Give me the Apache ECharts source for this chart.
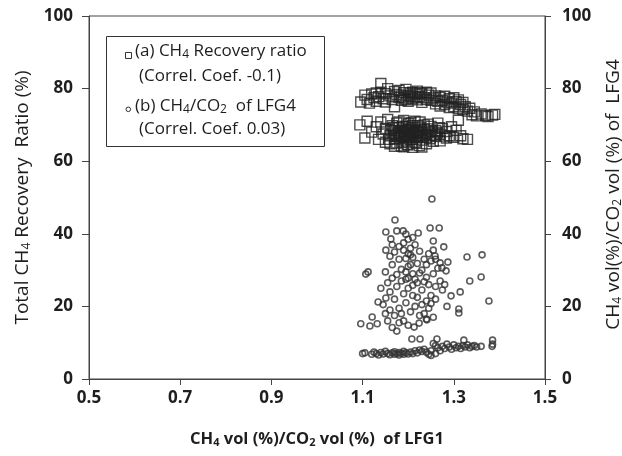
<!DOCTYPE html>
<html><head><meta charset="utf-8">
<script src="https://cdn.jsdelivr.net/npm/echarts@6/dist/echarts.min.js"></script>
<style>html,body{margin:0;padding:0;background:#fff}#c{width:622px;height:456px}</style>
</head><body><div id="c"></div>
<script>
// x-axis ticks
var xTicks = [0.5, 0.7, 0.9, 1.1, 1.3, 1.5];
var yTicks = [0, 20, 40, 60, 80, 100];

// (a) CH4 recovery ratio [CH4/CO2 of LFG1, ratio %]
var recoveryUpper = [
[1.096,76.3],[1.105,78.2],[1.11,77.0],[1.115,76.0],[1.12,78.5],[1.125,77.5],[1.13,76.5],[1.13,78.8],[1.135,77.8],[1.14,81.4],
[1.14,79.0],[1.145,77.2],[1.15,78.6],[1.15,76.3],[1.155,80.0],[1.16,78.0],[1.165,77.0],[1.17,79.2],[1.17,75.0],[1.175,78.4],
[1.18,77.6],[1.18,79.5],[1.185,76.8],[1.19,78.9],[1.19,77.4],[1.195,79.8],[1.2,78.2],[1.2,76.5],[1.205,77.9],[1.21,79.0],
[1.21,77.2],[1.215,78.5],[1.22,76.9],[1.22,79.3],[1.225,77.8],[1.23,78.6],[1.23,76.2],[1.235,77.5],[1.24,79.0],[1.24,77.0],
[1.245,78.2],[1.25,76.8],[1.25,78.8],[1.255,77.4],[1.26,75.8],[1.26,78.0],[1.265,76.5],[1.27,77.6],[1.27,75.2],[1.275,76.8],
[1.28,77.9],[1.28,75.6],[1.285,76.3],[1.29,77.2],[1.29,74.8],[1.295,76.0],[1.3,77.5],[1.3,75.0],[1.305,76.4],[1.31,74.5],
[1.31,76.9],[1.315,75.6],[1.32,74.2],[1.32,76.2],[1.325,75.0],[1.33,73.8],[1.335,74.6],[1.34,72.8],[1.345,73.6],[1.35,72.5],
[1.36,73.0],[1.37,72.6],[1.375,72.3],[1.385,72.7],[1.39,72.9],[1.185,78.0],[1.195,77.0],[1.205,78.8],[1.215,77.6],[1.225,78.9]
];
var recoveryLower = [
[1.094,70.0],[1.105,66.4],[1.11,71.0],[1.12,68.0],[1.13,69.5],[1.135,66.0],[1.14,70.8],[1.145,67.5],[1.15,65.2],[1.15,69.0],
[1.155,71.5],[1.16,67.0],[1.16,64.8],[1.165,69.8],[1.17,66.2],[1.17,68.5],[1.175,70.5],[1.175,65.0],[1.18,67.6],[1.18,69.2],
[1.185,64.2],[1.185,66.8],[1.19,71.2],[1.19,68.0],[1.195,65.6],[1.195,69.6],[1.2,67.2],[1.2,70.3],[1.2,64.5],[1.205,68.6],
[1.205,66.0],[1.21,69.8],[1.21,67.5],[1.215,65.2],[1.215,71.0],[1.22,68.2],[1.22,66.6],[1.225,64.3],[1.225,69.4],[1.23,67.8],
[1.23,65.8],[1.235,70.0],[1.235,68.8],[1.24,66.5],[1.24,64.8],[1.245,68.0],[1.25,69.6],[1.25,67.0],[1.255,65.5],[1.26,68.4],
[1.26,66.8],[1.265,70.5],[1.27,67.4],[1.27,65.6],[1.275,69.0],[1.28,66.9],[1.285,68.2],[1.29,67.0],[1.295,69.5],[1.3,66.6],
[1.305,68.5],[1.31,71.3],[1.315,67.0],[1.32,66.2],[1.33,66.0],[1.175,67.0],[1.185,68.3],[1.19,66.5],[1.195,67.9],[1.2,68.8],
[1.205,67.0],[1.21,66.0],[1.215,68.4],[1.22,69.8],[1.225,67.2],[1.18,70.8],[1.19,64.0],[1.21,63.8],[1.23,63.9],[1.17,64.1],
[1.178,68.0],[1.182,66.2],[1.188,69.6],[1.192,67.3],[1.198,68.4],[1.202,66.6],[1.208,69.2],[1.212,67.9],[1.218,66.9],[1.222,67.8],
[1.228,68.6],[1.232,66.9],[1.238,67.4],[1.242,68.9],[1.248,66.2],[1.252,68.3],[1.258,67.2],[1.188,65.2],[1.198,64.6],[1.218,64.9],
[1.168,69.3],[1.172,67.4],[1.162,68.4],[1.158,66.0],[1.206,70.6],[1.226,70.8],[1.244,70.2],[1.264,67.8],[1.268,69.2],[1.284,66.4]
];

// (b) CH4/CO2 of LFG4 [CH4/CO2 of LFG1, CH4/CO2 of LFG4 %]
var lfg4Low = [
[1.10,7.0],[1.105,7.2],[1.12,6.8],[1.125,7.4],[1.13,7.0],[1.135,6.6],[1.14,7.3],[1.145,6.9],[1.15,7.6],[1.155,7.0],
[1.16,6.7],[1.165,7.2],[1.17,7.5],[1.17,6.8],[1.175,7.0],[1.18,7.3],[1.18,6.6],[1.185,7.1],[1.19,6.8],[1.19,7.6],
[1.195,7.2],[1.2,6.9],[1.205,7.4],[1.21,7.0],[1.215,7.8],[1.22,7.2],[1.225,8.0],[1.23,7.6],[1.235,8.2],[1.24,7.4],
[1.245,6.8],[1.25,7.8],[1.255,9.8],[1.26,9.2],[1.265,8.6],[1.27,7.8],[1.275,9.0],[1.28,8.4],[1.285,9.6],[1.29,8.8],
[1.295,8.2],[1.3,9.4],[1.305,8.6],[1.31,9.0],[1.315,8.4],[1.32,9.2],[1.325,8.8],[1.33,9.4],[1.335,8.6],[1.34,9.0],
[1.345,9.2],[1.35,8.8],[1.36,9.0],[1.385,10.7],[1.385,9.6],[1.384,9.0],[1.208,11.0],[1.226,11.0],[1.263,11.0],[1.322,10.7],
[1.25,6.5],[1.26,7.0]
];
var lfg4High = [
[1.252,49.6],[1.171,43.8],[1.151,40.5],[1.175,40.8],[1.189,40.8],[1.195,39.9],[1.162,38.6],[1.222,40.2],[1.248,41.6],[1.268,41.6],
[1.255,38.0],[1.278,36.4],[1.151,35.5],[1.329,33.6],[1.362,34.2],[1.287,32.2],[1.259,33.9],[1.107,28.9],[1.112,29.5],[1.274,30.6],
[1.283,29.8],[1.360,28.1],[1.335,27.0],[1.314,24.0],[1.294,22.9],[1.377,21.5],[1.134,21.2],[1.151,22.3],[1.121,17.1],[1.096,15.2],
[1.116,14.6],[1.132,15.2],[1.175,13.2],[1.213,14.3],[1.311,19.3],[1.311,18.2],[1.224,15.4],[1.241,16.3],
[1.16,33.8],[1.165,31.5],[1.17,35.0],[1.175,28.8],[1.18,33.0],[1.185,30.2],[1.19,35.5],[1.195,27.5],[1.2,34.5],[1.2,31.0],
[1.205,36.0],[1.21,29.0],[1.21,33.5],[1.215,37.0],[1.22,31.8],[1.22,26.5],[1.225,35.2],[1.23,30.0],[1.23,24.5],[1.235,33.0],
[1.24,28.0],[1.24,21.5],[1.245,26.0],[1.25,32.5],[1.25,23.0],[1.255,29.0],[1.26,25.5],[1.265,30.5],[1.27,27.0],[1.15,29.5],
[1.155,26.5],[1.16,24.0],[1.165,27.8],[1.17,22.0],[1.175,25.5],[1.18,19.5],[1.185,27.0],[1.19,23.5],[1.195,21.0],[1.2,25.0],
[1.205,18.5],[1.21,23.0],[1.215,20.0],[1.22,22.5],[1.225,17.5],[1.23,20.5],[1.235,18.0],[1.24,16.5],[1.245,19.5],[1.25,20.8],
[1.255,17.0],[1.26,22.0],[1.14,25.0],[1.145,20.5],[1.15,18.0],[1.155,16.0],[1.16,19.0],[1.165,14.2],[1.17,17.5],[1.18,15.5],
[1.185,18.0],[1.19,16.0],[1.2,14.8],[1.195,29.5],[1.205,31.5],[1.215,27.5],[1.225,29.2],[1.235,26.8],[1.24,31.5],[1.245,34.5],
[1.255,35.5],[1.26,33.0],[1.27,32.0],[1.275,24.5],[1.28,26.0],[1.285,20.0],[1.19,37.5],[1.2,38.5],[1.21,39.0],[1.18,36.5],
[1.165,37.0],[1.2,27.8],[1.21,25.8],[1.195,33.2],[1.205,34.2]
];

var recoveryData = recoveryUpper.concat(recoveryLower);
var lfg4Data = lfg4Low.concat(lfg4High);

var FONT = '"Open Sans", "Liberation Sans", sans-serif';
var TXT = '#1e1e1e';
var AX = '#444';

var chart = echarts.init(document.getElementById('c'), null, {renderer: 'canvas'});
var subRich = {
  sub: {fontSize: 12, padding: [8, 0, 0, 0], fontFamily: FONT, color: TXT}
};
chart.setOption({
  animation: false,
  backgroundColor: '#fff',
  grid: {left: 89, right: 77, top: 16, bottom: 77, show: true, borderColor: AX, borderWidth: 1,
    containLabel: false, outerBoundsMode: 'none'},
  xAxis: {
    type: 'value', min: xTicks[0], max: xTicks[xTicks.length - 1], interval: 0.2,
    name: 'CH{sub|4} vol (%)/CO{sub|2} vol (%)  of LFG1',
    nameLocation: 'middle', nameGap: 51,
    nameTextStyle: {fontFamily: FONT, fontSize: 16.5, fontWeight: 'bold', color: TXT, rich: {sub: {fontSize: 11, fontWeight: 'bold', padding: [7,0,0,0], color: TXT, fontFamily: FONT}}},
    axisLine: {lineStyle: {color: AX, width: 1}},
    axisTick: {inside: false, length: 6, lineStyle: {color: AX}},
    axisLabel: {margin: 11, fontFamily: FONT, fontSize: 17, fontWeight: 'bold', color: TXT,
      formatter: function (v) { return v.toFixed(1); }},
    splitLine: {show: false}
  },
  yAxis: [{
    type: 'value', min: yTicks[0], max: yTicks[yTicks.length - 1], interval: 20, position: 'left',
    name: 'Total CH{sub|4} Recovery  Ratio (%)',
    nameLocation: 'middle', nameGap: 56, nameRotate: 90,
    nameTextStyle: {fontFamily: FONT, fontSize: 19, color: TXT, rich: subRich},
    axisLine: {show: true, lineStyle: {color: AX, width: 1}},
    axisTick: {show: true, length: 7, lineStyle: {color: AX}},
    axisLabel: {margin: 16, fontFamily: FONT, fontSize: 17, fontWeight: 'bold', color: TXT},
    splitLine: {show: false}
  }, {
    type: 'value', min: yTicks[0], max: yTicks[yTicks.length - 1], interval: 20, position: 'right',
    name: 'CH{sub|4} vol(%)/CO{sub|2} vol (%) of  LFG4',
    nameLocation: 'middle', nameGap: 59, nameRotate: 90,
    nameTextStyle: {fontFamily: FONT, fontSize: 19, color: TXT, rich: subRich, padding: [0, 0, 0, 6]},
    axisLine: {show: true, lineStyle: {color: AX, width: 1}},
    axisTick: {show: true, length: 6, lineStyle: {color: AX}},
    axisLabel: {margin: 17, fontFamily: FONT, fontSize: 17, fontWeight: 'bold', color: TXT},
    splitLine: {show: false}
  }],
  series: [{
    name: '(b) CH4/CO2 of LFG4', type: 'scatter', yAxisIndex: 1, data: lfg4Data,
    symbol: 'circle', symbolSize: 6,
    itemStyle: {color: 'rgba(0,0,0,0)', borderColor: '#333', borderWidth: 1.6}
  }, {
    name: '(a) CH4 Recovery ratio', type: 'scatter', yAxisIndex: 0, data: recoveryData,
    symbol: 'rect', symbolSize: 10,
    itemStyle: {color: 'rgba(0,0,0,0)', borderColor: '#222', borderWidth: 1.4}
  }],
  graphic: [{
    type: 'rect', left: 106, top: 36, shape: {width: 218, height: 110},
    style: {fill: '#fff', stroke: '#333', lineWidth: 1}
  }, {
    type: 'rect', left: 125, top: 52, shape: {width: 6, height: 6},
    style: {fill: '#fff', stroke: '#333', lineWidth: 1}
  }, {
    type: 'circle', left: 125.5, top: 106.5, shape: {r: 2.3},
    style: {fill: '#fff', stroke: '#333', lineWidth: 1}
  }, {
    type: 'text', left: 135, top: 43,
    style: {text: '(a) CH{sub|4} Recovery ratio', font: '17px ' + FONT, fill: TXT,
      rich: {sub: {fontSize: 12, padding: [7,0,0,0], fontFamily: FONT, fill: TXT}}}
  }, {
    type: 'text', left: 139, top: 68,
    style: {text: '(Correl. Coef. -0.1)', font: '17px ' + FONT, fill: TXT}
  }, {
    type: 'text', left: 135, top: 98,
    style: {text: '(b) CH{sub|4}/CO{sub|2}  of LFG4', font: '17px ' + FONT, fill: TXT,
      rich: {sub: {fontSize: 12, padding: [7,0,0,0], fontFamily: FONT, fill: TXT}}}
  }, {
    type: 'text', left: 139, top: 121,
    style: {text: '(Correl. Coef. 0.03)', font: '17px ' + FONT, fill: TXT}
  }]
});
</script></body></html>
